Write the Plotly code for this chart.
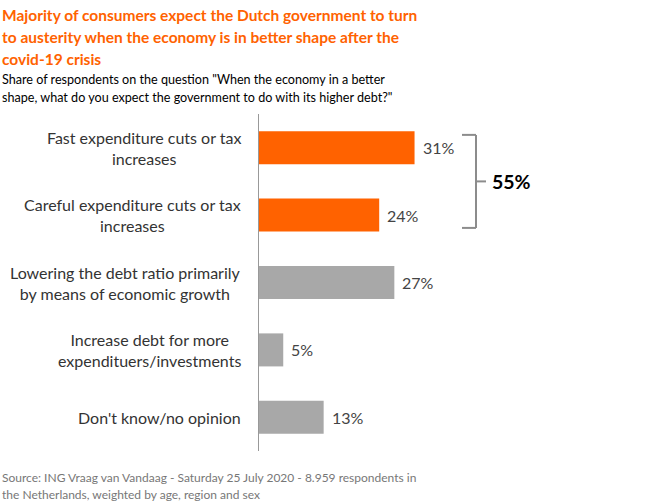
import plotly.graph_objects as go

categories = [
    "Fast expenditure cuts or tax<br>increases",
    "Careful expenditure cuts or tax<br>increases",
    "Lowering the debt ratio primarily<br>by means of economic growth",
    "Increase debt for more<br>expendituers/investments",
    "Don't know/no opinion",
]
values = [31, 24, 27, 5, 13]
colors = ["#FF6200", "#FF6200", "#A8A8A8", "#A8A8A8", "#A8A8A8"]
labels = [f"{v}%" for v in values]
bracket_label = "55%"
title_lines = [
    "Majority of consumers expect the Dutch government to turn",
    "to austerity when the economy is in better shape after the",
    "covid-19 crisis",
]
subtitle_lines = [
    "Share of respondents on the question \"When the economy in a better",
    "shape, what do you expect the government to do with its higher debt?\"",
]
source_lines = [
    "Source: ING Vraag van Vandaag - Saturday 25 July 2020 - 8.959 respondents in",
    "the Netherlands, weighted by age, region and sex",
]

FONT = "Lato"
W, H = 655, 503
ml, mr, mt, mb = 258, 94, 114, 52
ph = H - mt - mb
pw = W - ml - mr

def py(px):
    return (H - mb - px) / ph

def pxx(px):
    return (px - ml) / pw

fig = go.Figure()
fig.add_trace(go.Bar(
    x=values, y=list(range(len(categories))), orientation="h",
    marker=dict(color=colors, line=dict(width=0)), width=0.49,
    hoverinfo="skip",
))

annotations = []
for i, c in enumerate(categories):
    annotations.append(dict(
        x=pxx(243), y=i, xref="paper", yref="y", text=c, showarrow=False,
        xanchor="right", yanchor="middle", align="center",
        font=dict(family=FONT, size=16, color="#333333"),
    ))
for i, (v, t) in enumerate(zip(values, labels)):
    annotations.append(dict(
        x=v, y=i, xref="x", yref="y", text=t, showarrow=False,
        xanchor="left", yanchor="middle", xshift=6,
        font=dict(family=FONT, size=16, color="#444444"),
    ))

def line_ann(text, ypx, size, color, bold=False):
    return dict(x=0, y=py(ypx), xref="paper", yref="paper", xanchor="left",
                yanchor="middle", xshift=-ml, showarrow=False,
                text=f"<b>{text}</b>" if bold else text,
                font=dict(family=FONT, size=size, color=color))

for t, y in zip(title_lines, [15, 37, 59]):
    annotations.append(line_ann(t, y, 15.5, "#FF6200", bold=True))
for t, y in zip(subtitle_lines, [79, 98]):
    annotations.append(line_ann(t, y, 12.6, "#000000"))
for t, y in zip(source_lines, [477, 494]):
    annotations.append(line_ann(t, y, 12, "#777777"))

annotations.append(dict(x=pxx(490), y=0.5, xref="paper", yref="y", xanchor="left",
                        yanchor="middle", showarrow=False, text=f"<b>{bracket_label}</b>",
                        font=dict(family=FONT, size=19.5, color="#000000")))

bx = pxx(476)
lc = dict(color="#8C8C8C", width=2)
shapes = [
    dict(type="line", xref="paper", yref="y", x0=bx, x1=bx, y0=-0.19, y1=1.19, line=lc),
    dict(type="line", xref="paper", yref="y", x0=pxx(462), x1=bx, y0=-0.19, y1=-0.19, line=lc),
    dict(type="line", xref="paper", yref="y", x0=pxx(462), x1=bx, y0=1.19, y1=1.19, line=lc),
    dict(type="line", xref="paper", yref="y", x0=bx, x1=pxx(486), y0=0.5, y1=0.5, line=lc),
    dict(type="line", xref="x", yref="paper", x0=0, x1=0, y0=0, y1=1,
         line=dict(color="#999999", width=2)),
]

fig.update_layout(
    width=W, height=H, margin=dict(l=ml, r=mr, t=mt, b=mb),
    paper_bgcolor="white", plot_bgcolor="white", showlegend=False,
    annotations=annotations, shapes=shapes,
    xaxis=dict(range=[0, 60], visible=False, fixedrange=True),
    yaxis=dict(range=[4.5, -0.5], showticklabels=False, showgrid=False, zeroline=False,
               showline=False, fixedrange=True),
)
fig.write_html("out.html", config={"displayModeBar": False},
               post_script="document.body.style.margin='0';")
